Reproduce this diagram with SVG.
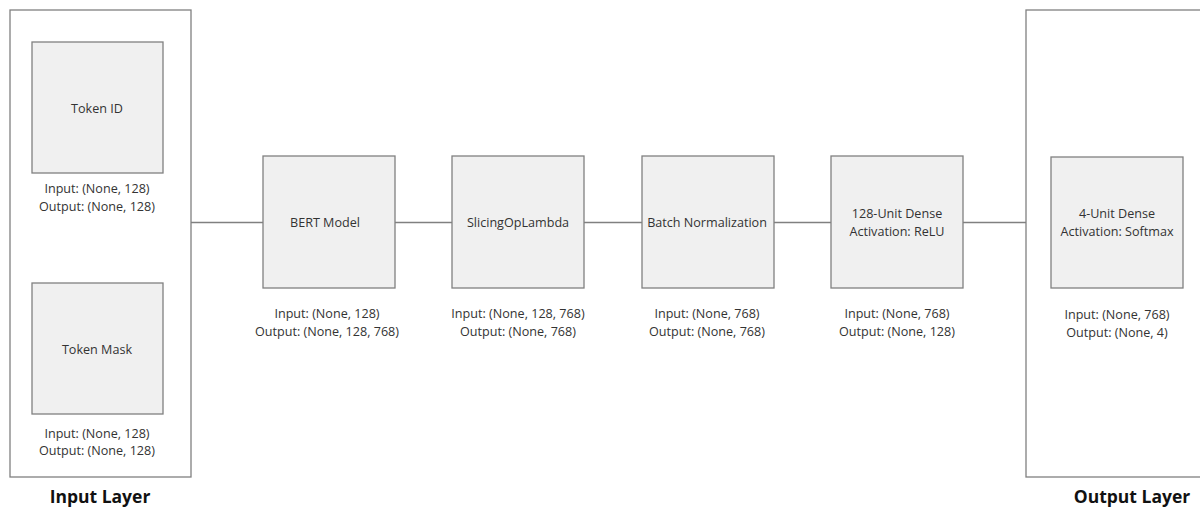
<svg xmlns="http://www.w3.org/2000/svg" width="1200" height="508" viewBox="0 0 1200 508">
<style>
.layer{fill:#ffffff;stroke:#808080;stroke-width:1.3}
.box{fill:#f0f0f0;stroke:#808080;stroke-width:1.3}
.t{font-family:"Open Sans","Liberation Sans",sans-serif;font-size:12.6px;fill:#333;text-anchor:middle}
.h{font-family:"Open Sans","Liberation Sans",sans-serif;font-size:17.5px;font-weight:bold;fill:#111;text-anchor:middle}
.c{stroke:#808080;stroke-width:1.3;fill:none}
</style>
<rect width="1200" height="508" fill="#ffffff"/>
<g id="input-layer">
<rect class="layer" x="10" y="10" width="181" height="467"/>
<text class="h" x="100" y="503">Input Layer</text>
</g>
<g id="output-layer">
<rect class="layer" x="1026" y="10" width="185" height="467"/>
<text class="h" x="1132" y="503">Output Layer</text>
</g>
<g id="connectors">
<line class="c" x1="191" y1="222.5" x2="263" y2="222.5"/>
<line class="c" x1="395" y1="222.5" x2="452" y2="222.5"/>
<line class="c" x1="584" y1="222.5" x2="642" y2="222.5"/>
<line class="c" x1="774" y1="222.5" x2="831" y2="222.5"/>
<line class="c" x1="963" y1="222.5" x2="1026" y2="222.5"/>
</g>
<g id="token-id">
<rect class="box" x="32" y="42" width="131" height="131"/>
<text class="t" x="97" y="113">Token ID</text>
<text class="t" x="97" y="193">Input: (None, 128)</text>
<text class="t" x="97" y="211">Output: (None, 128)</text>
</g>
<g id="token-mask">
<rect class="box" x="32" y="283" width="131" height="131"/>
<text class="t" x="97" y="354">Token Mask</text>
<text class="t" x="97" y="438">Input: (None, 128)</text>
<text class="t" x="97" y="455">Output: (None, 128)</text>
</g>
<g id="bert">
<rect class="box" x="263" y="156" width="132" height="132"/>
<text class="t" x="325" y="227">BERT Model</text>
<text class="t" x="327" y="318">Input: (None, 128)</text>
<text class="t" x="327" y="336">Output: (None, 128, 768)</text>
</g>
<g id="slicing">
<rect class="box" x="452" y="156" width="132" height="132"/>
<text class="t" x="518" y="227">SlicingOpLambda</text>
<text class="t" x="518" y="318">Input: (None, 128, 768)</text>
<text class="t" x="518" y="336">Output: (None, 768)</text>
</g>
<g id="batchnorm">
<rect class="box" x="642" y="156" width="132" height="132"/>
<text class="t" x="707" y="227">Batch Normalization</text>
<text class="t" x="707" y="318">Input: (None, 768)</text>
<text class="t" x="707" y="336">Output: (None, 768)</text>
</g>
<g id="dense128">
<rect class="box" x="831" y="156" width="132" height="132"/>
<text class="t" x="897" y="218">128-Unit Dense</text>
<text class="t" x="897" y="236">Activation: ReLU</text>
<text class="t" x="897" y="318">Input: (None, 768)</text>
<text class="t" x="897" y="336">Output: (None, 128)</text>
</g>
<g id="dense4">
<rect class="box" x="1051" y="157" width="132" height="131"/>
<text class="t" x="1117" y="218">4-Unit Dense</text>
<text class="t" x="1117" y="236">Activation: Softmax</text>
<text class="t" x="1117" y="319">Input: (None, 768)</text>
<text class="t" x="1117" y="337">Output: (None, 4)</text>
</g>
</svg>
